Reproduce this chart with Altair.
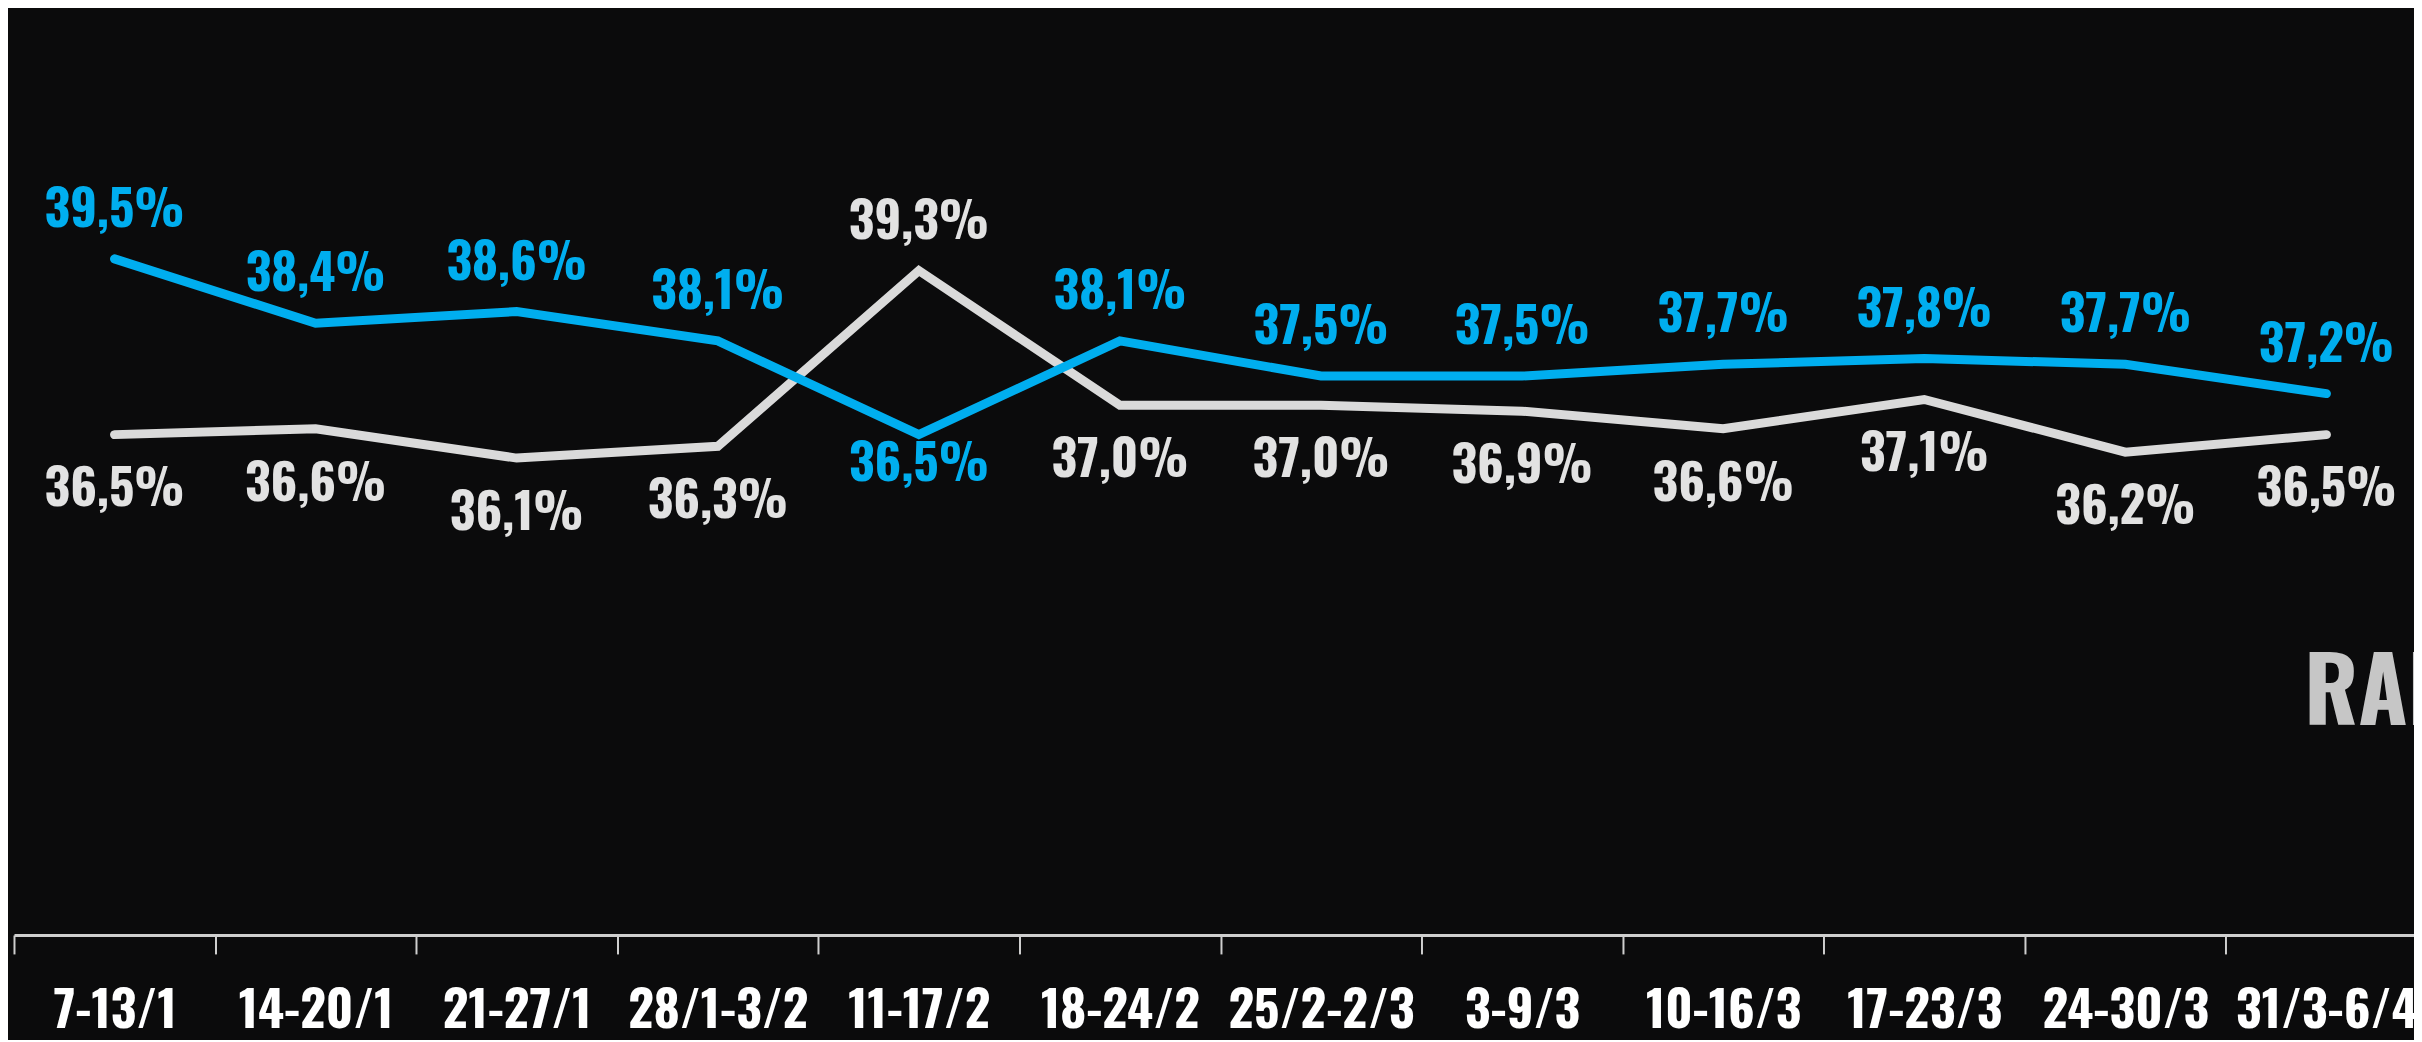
import altair as alt
import pandas as pd

# ---- data ----
weeks = ["7-13/1", "14-20/1", "21-27/1", "28/1-3/2", "11-17/2", "18-24/2",
         "25/2-2/3", "3-9/3", "10-16/3", "17-23/3", "24-30/3", "31/3-6/4"]
blue_vals = [39.5, 38.4, 38.6, 38.1, 36.5, 38.1, 37.5, 37.5, 37.7, 37.8, 37.7, 37.2]
grey_vals = [36.5, 36.6, 36.1, 36.3, 39.3, 37.0, 37.0, 36.9, 36.6, 37.1, 36.2, 36.5]
corner_text = ["RAI"]

FONT = "Oswald, Bebas Neue, Roboto Condensed, sans-serif"
BLUE = "#00AEEF"
GREY = "#DADADA"
GREY_TXT = "#E2E2E2"
Y_DOMAIN = [27.96, 43.76]


def fmt(v):
    return f"{v:.1f}".replace(".", ",") + "%"


def frame(vals, other):
    return pd.DataFrame({
        "settimana": weeks,
        "valore": vals,
        "etichetta": [fmt(v) for v in vals],
        "pos": ["sopra" if v >= o else "sotto" for v, o in zip(vals, other)],
    })


df_blue = frame(blue_vals, grey_vals)
df_grey = frame(grey_vals, [v + 1e-9 for v in blue_vals])

x_enc = alt.X(
    "settimana:N",
    sort=weeks,
    bandPosition=0.5,
    scale=alt.Scale(type="band", range=[6, 2425], paddingInner=0, paddingOuter=0),
    axis=alt.Axis(
        title=None,
        tickBand="extent",
        labelAngle=0,
        labelFont=FONT,
        labelFontSize=50,
        labelFontWeight="bold",
        labelColor="#FFFFFF",
        labelBaseline="alphabetic",
        labelPadding=74,
        labelLimit=0,
        labelOverlap=False,
        domainColor="#CFCFCF",
        domainWidth=3,
        tickColor="#CFCFCF",
        tickWidth=2,
        tickSize=19,
        grid=False,
    ),
)

y_enc = alt.Y("valore:Q", axis=None,
              scale=alt.Scale(domain=Y_DOMAIN, zero=False, nice=False))


def series(df, color, txt_color, below_dy):
    base = alt.Chart(df).encode(x=x_enc, y=y_enc)
    line = base.mark_line(color=color, strokeWidth=9, strokeCap="round",
                          strokeJoin="miter")
    above = base.transform_filter(alt.datum.pos == "sopra").mark_text(
        font=FONT, fontSize=50, fontWeight="bold", color=txt_color,
        baseline="alphabetic", align="center", dy=-32,
    ).encode(text="etichetta:N")
    below = base.transform_filter(alt.datum.pos == "sotto").mark_text(
        font=FONT, fontSize=50, fontWeight="bold", color=txt_color,
        baseline="alphabetic", align="center", dy=below_dy,
    ).encode(text="etichetta:N")
    return alt.layer(line, above, below)


blue_layer = series(df_blue, BLUE, BLUE, 46)
grey_layer = series(df_grey, GREY, GREY_TXT, 72)

corner = alt.Chart(pd.DataFrame({"t": corner_text})).mark_text(
    font=FONT, fontSize=90, fontWeight="bold", color="#C6C6C6",
    align="left", baseline="alphabetic",
).encode(x=alt.value(2302), y=alt.value(717), text="t:N")

chart = alt.layer(corner, grey_layer, blue_layer).properties(
    width=2412,
    height=928,
    padding={"left": 0, "top": 0, "right": 0, "bottom": 104},
    autosize=alt.AutoSizeParams(type="none"),
    background="#0B0B0C",
).configure_view(stroke=None)

chart.save("out.html", embed_options={"renderer": "svg", "actions": False})
